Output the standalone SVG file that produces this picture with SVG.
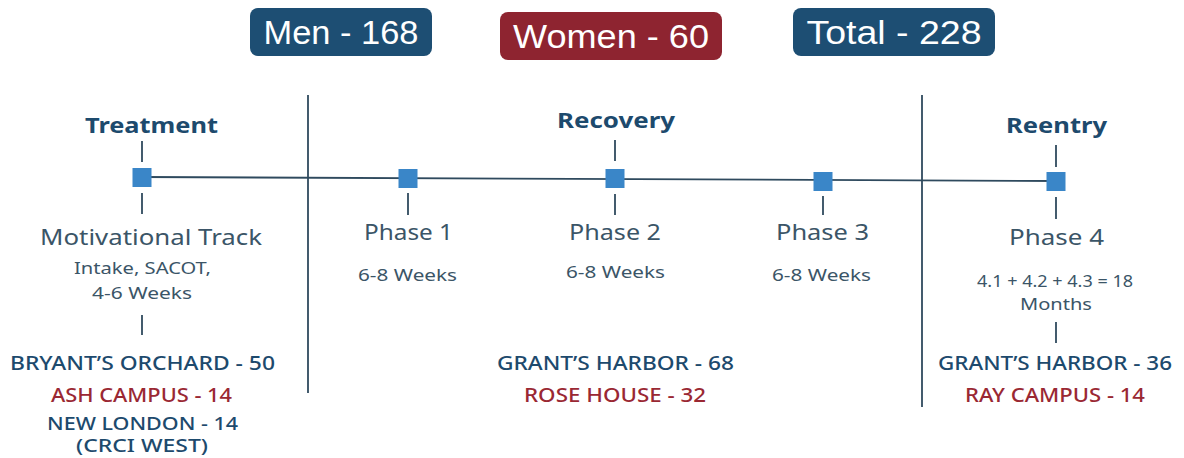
<svg xmlns="http://www.w3.org/2000/svg" width="1184" height="458" viewBox="0 0 1184 458">
<style>
.badge{stroke:none}
.bt{font-family:"Liberation Sans",Arial,sans-serif;font-size:33px;fill:#ffffff;text-anchor:middle}
.hd{font-family:"Noto Sans","Open Sans",sans-serif;font-weight:700;font-size:22px;fill:#1d4a6d;text-anchor:middle}
.ph{font-family:"Noto Sans","Open Sans",sans-serif;font-size:22px;fill:#3b5567;text-anchor:middle}
.sm{font-family:"Noto Sans","Open Sans",sans-serif;font-size:16px;fill:#3b5567;text-anchor:middle}
.sb{font-family:"Noto Sans","Open Sans",sans-serif;font-weight:500;font-size:19px;fill:#1d4a6d;text-anchor:middle}
.sr{font-family:"Noto Sans","Open Sans",sans-serif;font-weight:500;font-size:19px;fill:#9a2833;text-anchor:middle}
.tk{stroke:#2f4a5e;stroke-width:1.8;fill:none}
.sq{fill:#3a86c8}
</style>
<rect width="1184" height="458" fill="#ffffff"/>
<g id="badge-men"><rect class="badge" x="250" y="8" width="182" height="48" rx="8" fill="#1d4e73"/><text class="bt" x="341" y="44" textLength="155" lengthAdjust="spacingAndGlyphs">Men - 168</text></g>
<g id="badge-women"><rect class="badge" x="500" y="12" width="222" height="48" rx="8" fill="#8e2430"/><text class="bt" x="611" y="48" textLength="196" lengthAdjust="spacingAndGlyphs">Women - 60</text></g>
<g id="badge-total"><rect class="badge" x="793" y="8" width="202" height="48" rx="8" fill="#1d4e73"/><text class="bt" x="894" y="44" textLength="175" lengthAdjust="spacingAndGlyphs">Total - 228</text></g>
<g id="connectors">
<line class="tk" x1="142" y1="177" x2="1056" y2="181" stroke-width="2.2"/>
<line class="tk" x1="308" y1="95" x2="308" y2="393" stroke-width="2"/>
<line class="tk" x1="922" y1="95" x2="922" y2="407" stroke-width="2"/>
<line class="tk" x1="142" y1="141" x2="142" y2="162"/>
<line class="tk" x1="142" y1="193" x2="142" y2="214"/>
<line class="tk" x1="142" y1="315" x2="142" y2="335"/>
<line class="tk" x1="408" y1="193" x2="408" y2="215"/>
<line class="tk" x1="615" y1="140" x2="615" y2="161"/>
<line class="tk" x1="615" y1="194" x2="615" y2="215"/>
<line class="tk" x1="823" y1="196" x2="823" y2="215"/>
<line class="tk" x1="1056" y1="145" x2="1056" y2="167"/>
<line class="tk" x1="1056" y1="197" x2="1056" y2="219"/>
<line class="tk" x1="1056" y1="322" x2="1056" y2="343"/>
</g>
<g id="treatment">
<text class="hd" x="151.5" y="133" textLength="133" lengthAdjust="spacingAndGlyphs">Treatment</text>
<rect class="sq" x="132.5" y="168" width="19" height="19"/>
<text class="ph" x="151" y="245" textLength="222" lengthAdjust="spacingAndGlyphs">Motivational Track</text>
<text class="sm" x="142.5" y="274" textLength="137" lengthAdjust="spacingAndGlyphs">Intake, SACOT,</text>
<text class="sm" x="142" y="299" textLength="100" lengthAdjust="spacingAndGlyphs">4-6 Weeks</text>
<text class="sb" x="142.5" y="370" textLength="265" lengthAdjust="spacingAndGlyphs">BRYANT’S ORCHARD - 50</text>
<text class="sr" x="141.5" y="402" textLength="181" lengthAdjust="spacingAndGlyphs">ASH CAMPUS - 14</text>
<text class="sb" x="142.5" y="430" textLength="191" lengthAdjust="spacingAndGlyphs" style="font-size:18px">NEW LONDON - 14</text>
<text class="sb" x="142" y="452" textLength="132" lengthAdjust="spacingAndGlyphs" style="font-size:18px">(CRCI WEST)</text>
</g>
<g id="phase1">
<rect class="sq" x="398.5" y="169" width="19" height="19"/>
<text class="ph" x="408.5" y="240" textLength="89" lengthAdjust="spacingAndGlyphs">Phase 1</text>
<text class="sm" x="407.5" y="281" textLength="99" lengthAdjust="spacingAndGlyphs">6-8 Weeks</text>
</g>
<g id="recovery">
<text class="hd" x="616" y="128" textLength="118" lengthAdjust="spacingAndGlyphs">Recovery</text>
<rect class="sq" x="605.5" y="169" width="19" height="19"/>
<text class="ph" x="615" y="240" textLength="92" lengthAdjust="spacingAndGlyphs">Phase 2</text>
<text class="sm" x="615.5" y="278" textLength="99" lengthAdjust="spacingAndGlyphs">6-8 Weeks</text>
<text class="sb" x="615.5" y="370" textLength="237" lengthAdjust="spacingAndGlyphs">GRANT’S HARBOR - 68</text>
<text class="sr" x="615" y="402" textLength="182" lengthAdjust="spacingAndGlyphs">ROSE HOUSE - 32</text>
</g>
<g id="phase3">
<rect class="sq" x="813.5" y="172" width="19" height="19"/>
<text class="ph" x="822.5" y="240" textLength="93" lengthAdjust="spacingAndGlyphs">Phase 3</text>
<text class="sm" x="821.5" y="281" textLength="99" lengthAdjust="spacingAndGlyphs">6-8 Weeks</text>
</g>
<g id="reentry">
<text class="hd" x="1056.5" y="133" textLength="101" lengthAdjust="spacingAndGlyphs">Reentry</text>
<rect class="sq" x="1046.5" y="172" width="19" height="19"/>
<text class="ph" x="1056.5" y="245" textLength="95" lengthAdjust="spacingAndGlyphs">Phase 4</text>
<text class="sm" x="1055" y="287" textLength="156" lengthAdjust="spacingAndGlyphs">4.1 + 4.2 + 4.3 = 18</text>
<text class="sm" x="1056" y="310" textLength="72" lengthAdjust="spacingAndGlyphs">Months</text>
<text class="sb" x="1055" y="370" textLength="234" lengthAdjust="spacingAndGlyphs">GRANT’S HARBOR - 36</text>
<text class="sr" x="1055" y="402" textLength="180" lengthAdjust="spacingAndGlyphs">RAY CAMPUS - 14</text>
</g>
</svg>
